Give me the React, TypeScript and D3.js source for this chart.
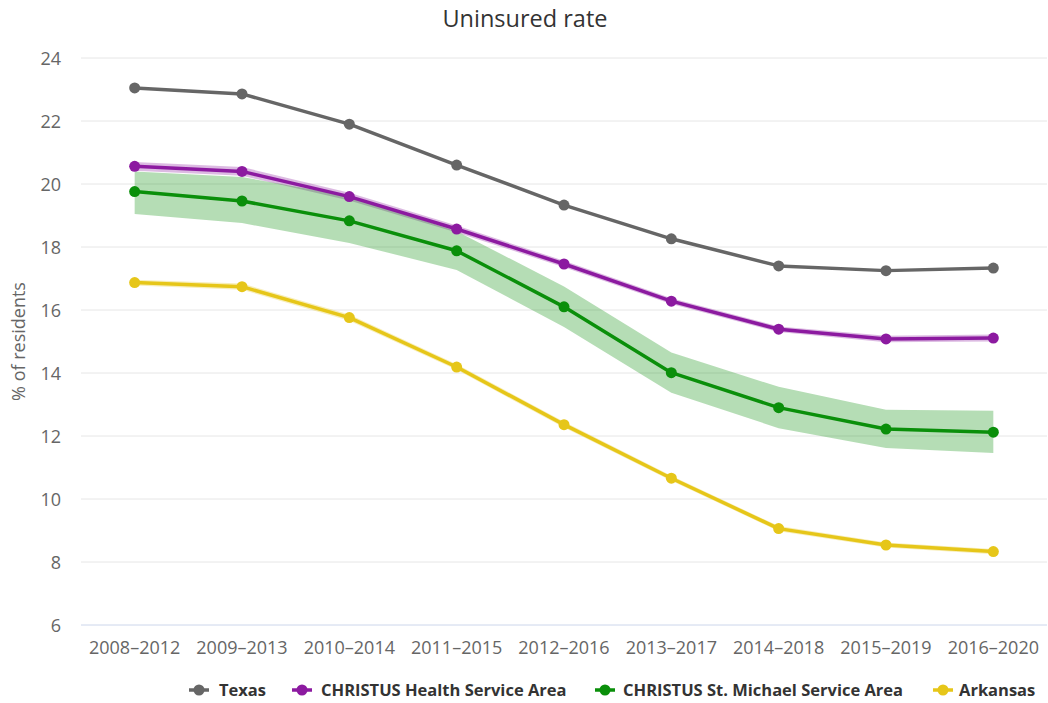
import React from "react";
import * as d3 from "d3";

const categories = ["2008–2012", "2009–2013", "2010–2014", "2011–2015", "2012–2016", "2013–2017", "2014–2018", "2015–2019", "2016–2020"];
const yTicks = [6, 8, 10, 12, 14, 16, 18, 20, 22, 24];

const texas = [23.05, 22.86, 21.9, 20.6, 19.33, 18.26, 17.4, 17.25, 17.33];
const christusHealth = [20.56, 20.4, 19.6, 18.57, 17.46, 16.28, 15.39, 15.08, 15.11];
const christusHealthLow = [20.42, 20.26, 19.48, 18.46, 17.36, 16.19, 15.3, 14.98, 15.0];
const christusHealthHigh = [20.7, 20.54, 19.72, 18.68, 17.56, 16.37, 15.48, 15.18, 15.22];
const stMichael = [19.76, 19.46, 18.83, 17.88, 16.1, 14.01, 12.9, 12.22, 12.12];
const stMichaelLow = [19.05, 18.76, 18.13, 17.27, 15.46, 13.37, 12.25, 11.62, 11.46];
const stMichaelHigh = [20.4, 20.22, 19.62, 18.5, 16.75, 14.65, 13.56, 12.83, 12.8];
const arkansas = [16.87, 16.74, 15.76, 14.19, 12.36, 10.66, 9.06, 8.54, 8.33];
const arkansasLow = [16.78, 16.64, 15.66, 14.1, 12.27, 10.58, 8.98, 8.46, 8.25];
const arkansasHigh = [16.96, 16.84, 15.86, 14.28, 12.45, 10.74, 9.14, 8.62, 8.41];

const seriesNames = ["Texas", "CHRISTUS Health Service Area", "CHRISTUS St. Michael Service Area", "Arkansas"];
const seriesColors = ["#666666", "#8c1aa0", "#0a8f0a", "#e6c619"];

const W = 1048, H = 703;
const FONT = "'Open Sans', sans-serif";

export default function App() {
  const x = d3.scaleBand<string>().domain(categories).range([81, 1047]);
  const y = d3.scaleLinear().domain([6, 24]).range([625, 58]);
  const cx = (i: number) => (x(categories[i]) as number) + x.bandwidth() / 2;

  const line = d3.line<number>().x((_, i) => cx(i)).y((v) => y(v));
  const area = (lo: number[], hi: number[]) =>
    d3.area<number>().x((_, i) => cx(i)).y0((_, i) => y(lo[i])).y1((v) => y(v))(hi) as string;

  const series = [
    { values: texas, lo: null as number[] | null, hi: null as number[] | null, bandOpacity: 0 },
    { values: christusHealth, lo: christusHealthLow, hi: christusHealthHigh, bandOpacity: 0.3 },
    { values: stMichael, lo: stMichaelLow, hi: stMichaelHigh, bandOpacity: 0.3 },
    { values: arkansas, lo: arkansasLow, hi: arkansasHigh, bandOpacity: 0.3 },
  ];

  const legendItems = [
    { x: 189, tx: 219 },
    { x: 292, tx: 321 },
    { x: 595, tx: 623 },
    { x: 933, tx: 959 },
  ];

  return (
    <svg width={W} height={H} style={{ position: "absolute", left: 0, top: 0 }} fontFamily={FONT}>
      <rect width={W} height={H} fill="#fff" />
      <text x={525} y={27} textAnchor="middle" fontSize={23.5} fill="#333">Uninsured rate</text>
      {yTicks.map((t) => (
        <g key={t}>
          {t !== 6 && <line x1={81} x2={1047} y1={y(t)} y2={y(t)} stroke="#e6e6e6" strokeWidth={1} />}
          <text x={61} y={y(t) + 6.5} textAnchor="end" fontSize={18} fill="#666">{t}</text>
        </g>
      ))}
      <line x1={81} x2={1047} y1={y(6)} y2={y(6)} stroke="#ccd6eb" strokeWidth={1} />
      <text transform={`translate(25,${(y(6) + y(24)) / 2}) rotate(-90)`} textAnchor="middle" fontSize={18} fill="#666">% of residents</text>
      {categories.map((c, i) => (
        <text key={c} x={cx(i)} y={654} textAnchor="middle" fontSize={18} fill="#666">{c}</text>
      ))}
      {series.map((s, k) => s.lo && s.hi ? (
        <path key={"a" + k} d={area(s.lo, s.hi)} fill={seriesColors[k]} fillOpacity={s.bandOpacity} />
      ) : null)}
      {series.map((s, k) => (
        <g key={"s" + k}>
          <path d={line(s.values) as string} fill="none" stroke={seriesColors[k]} strokeWidth={3.5} strokeLinejoin="round" strokeLinecap="round" />
          {s.values.map((v, i) => (
            <circle key={i} cx={cx(i)} cy={y(v)} r={5.5} fill={seriesColors[k]} />
          ))}
        </g>
      ))}
      {legendItems.map((it, k) => (
        <g key={"l" + k} transform={`translate(${it.x},690)`}>
          <line x1={0} x2={20} y1={0} y2={0} stroke={seriesColors[k]} strokeWidth={3.5} />
          <circle cx={10} cy={0} r={5.5} fill={seriesColors[k]} />
          <text x={it.tx - it.x} y={6} fontSize={16.5} fontWeight="bold" fill="#333">{seriesNames[k]}</text>
        </g>
      ))}
    </svg>
  );
}
